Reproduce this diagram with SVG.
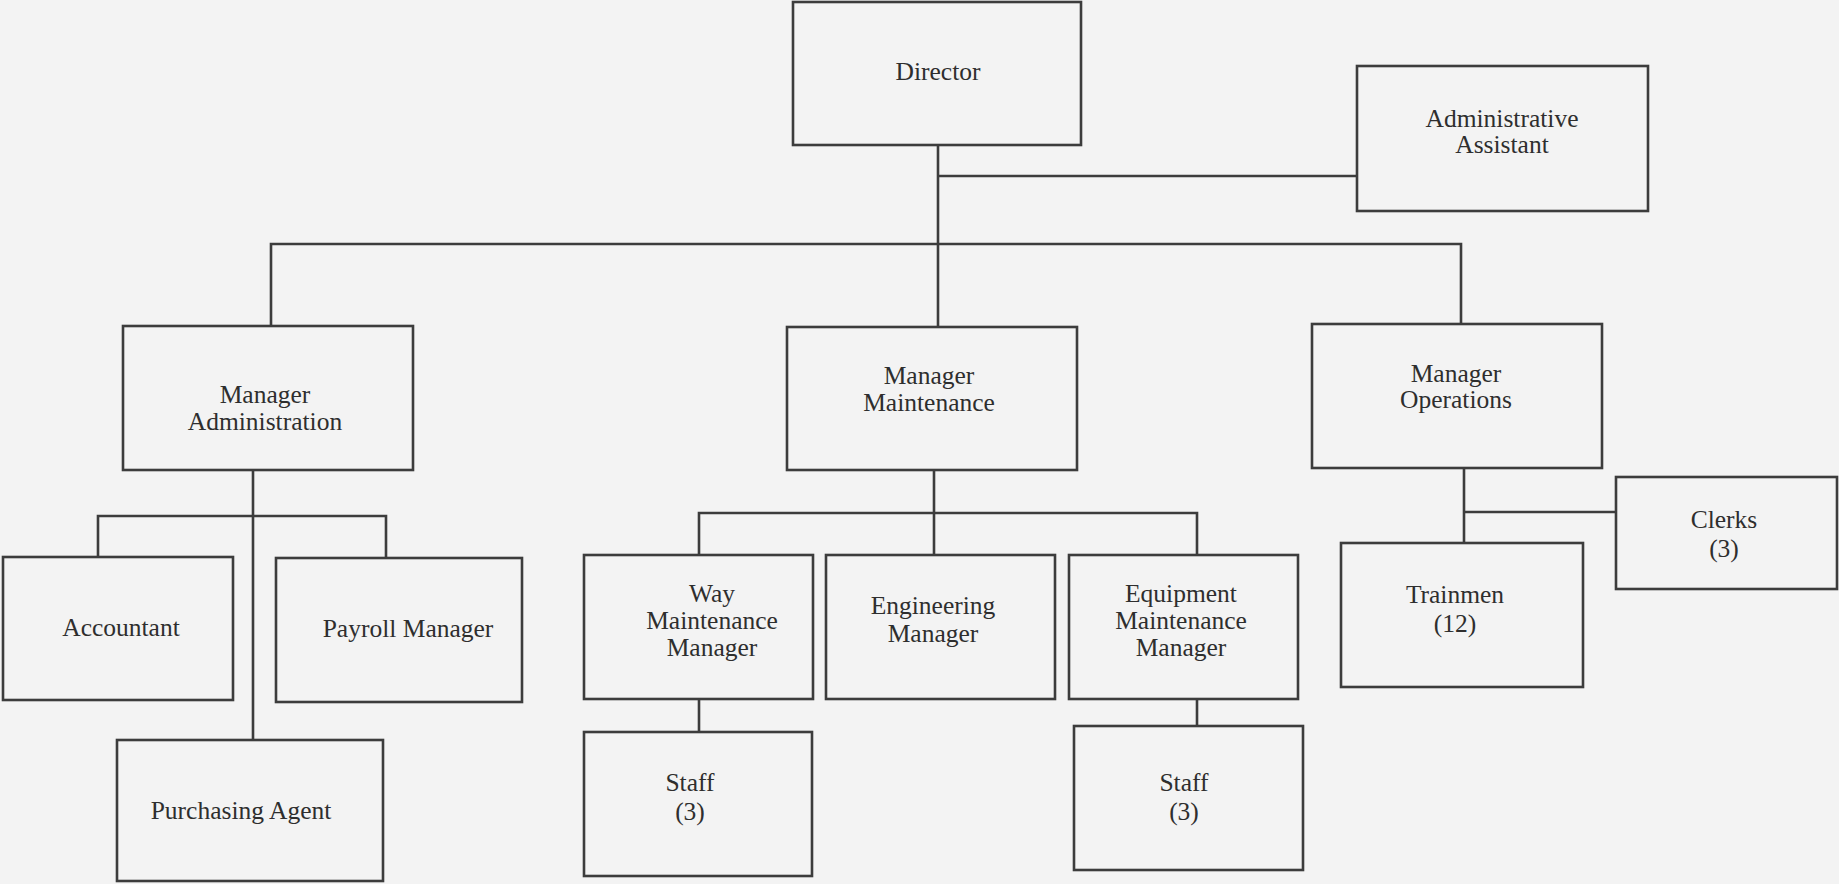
<svg xmlns="http://www.w3.org/2000/svg" width="1839" height="884" viewBox="0 0 1839 884">
<style>
.bg{fill:#f3f3f3}
.box{fill:#f3f3f3;stroke:#3c3c3c;stroke-width:2.6}
.ln{fill:none;stroke:#3c3c3c;stroke-width:2.6}
text{font-family:"Liberation Serif","Times New Roman",serif;font-size:25.5px;fill:#2e2e2e;text-anchor:middle}
</style>
<rect class="bg" x="0" y="0" width="1839" height="884"/>
<g id="connectors">
<path class="ln" d="M938,145 V326"/>
<path class="ln" d="M938,176 H1357"/>
<path class="ln" d="M271,326 V244 H1461 V324"/>
<path class="ln" d="M253,470 V740"/>
<path class="ln" d="M98,557 V516 H386 V558"/>
<path class="ln" d="M934,470 V555"/>
<path class="ln" d="M699,555 V513 H1197 V555"/>
<path class="ln" d="M699,699 V732"/>
<path class="ln" d="M1197,699 V726"/>
<path class="ln" d="M1464,468 V543"/>
<path class="ln" d="M1464,512 H1616"/>
</g>
<g id="director"><rect class="box" x="793" y="2" width="288" height="143"/><text x="938" y="80">Director</text></g>
<g id="admin-assistant"><rect class="box" x="1357" y="66" width="291" height="145"/><text x="1502" y="127">Administrative</text><text x="1502" y="153">Assistant</text></g>
<g id="manager-administration"><rect class="box" x="123" y="326" width="290" height="144"/><text x="265" y="403">Manager</text><text x="265" y="430">Administration</text></g>
<g id="manager-maintenance"><rect class="box" x="787" y="327" width="290" height="143"/><text x="929" y="384">Manager</text><text x="929" y="411">Maintenance</text></g>
<g id="manager-operations"><rect class="box" x="1312" y="324" width="290" height="144"/><text x="1456" y="382">Manager</text><text x="1456" y="408">Operations</text></g>
<g id="accountant"><rect class="box" x="3" y="557" width="230" height="143"/><text x="121" y="636">Accountant</text></g>
<g id="payroll-manager"><rect class="box" x="276" y="558" width="246" height="144"/><text x="408" y="637">Payroll Manager</text></g>
<g id="purchasing-agent"><rect class="box" x="117" y="740" width="266" height="141"/><text x="241" y="819">Purchasing Agent</text></g>
<g id="way-maintenance-manager"><rect class="box" x="584" y="555" width="229" height="144"/><text x="712" y="602">Way</text><text x="712" y="629">Maintenance</text><text x="712" y="656">Manager</text></g>
<g id="engineering-manager"><rect class="box" x="826" y="555" width="229" height="144"/><text x="933" y="614">Engineering</text><text x="933" y="642">Manager</text></g>
<g id="equipment-maintenance-manager"><rect class="box" x="1069" y="555" width="229" height="144"/><text x="1181" y="602">Equipment</text><text x="1181" y="629">Maintenance</text><text x="1181" y="656">Manager</text></g>
<g id="staff-way"><rect class="box" x="584" y="732" width="228" height="144"/><text x="690" y="791">Staff</text><text x="690" y="820">(3)</text></g>
<g id="staff-equipment"><rect class="box" x="1074" y="726" width="229" height="144"/><text x="1184" y="791">Staff</text><text x="1184" y="820">(3)</text></g>
<g id="trainmen"><rect class="box" x="1341" y="543" width="242" height="144"/><text x="1455" y="603">Trainmen</text><text x="1455" y="632">(12)</text></g>
<g id="clerks"><rect class="box" x="1616" y="477" width="221" height="112"/><text x="1724" y="528">Clerks</text><text x="1724" y="557">(3)</text></g>
</svg>
